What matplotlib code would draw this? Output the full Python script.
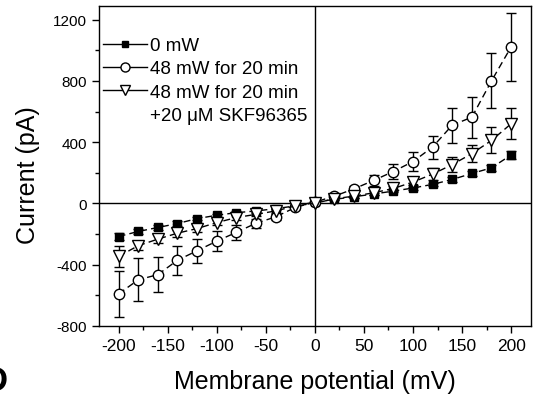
import matplotlib
matplotlib.use("Agg")
import matplotlib.pyplot as plt
from matplotlib.lines import Line2D
import numpy as np

plt.rcParams['font.family'] = ['Liberation Sans', 'DejaVu Sans']
plt.rcParams['axes.unicode_minus'] = False

voltage = [-200, -180, -160, -140, -120, -100, -80, -60, -40, -20, 0,
           20, 40, 60, 80, 100, 120, 140, 160, 180, 200]

ctrl = [-217, -184, -158, -132, -100, -78, -61, -50, -35, -17, 8,
        26, 43, 61, 80, 100, 124, 156, 195, 232, 316]
ctrl_err = [20, 18, 16, 14, 12, 10, 9, 8, 7, 6, 5,
            6, 7, 8, 9, 10, 12, 14, 16, 20, 25]

laser = [-592, -500, -466, -372, -310, -247, -190, -130, -89, -27, 8,
         47, 95, 150, 208, 273, 368, 511, 563, 800, 1022]
laser_err = [150, 140, 115, 95, 80, 65, 48, 30, 20, 12, 8,
             15, 20, 35, 48, 62, 75, 115, 135, 180, 225]

skf = [-347, -277, -234, -195, -165, -126, -93, -72, -50, -17, 0,
       30, 47, 69, 97, 139, 191, 253, 325, 411, 520]
skf_err = [70, 30, 25, 22, 20, 18, 15, 12, 10, 8, 6,
           8, 10, 12, 15, 18, 40, 48, 55, 85, 100]

labels = ['0 mW', '48 mW for 20 min', '48 mW for 20 min', '+20 \u03bcM SKF96365']

fig = plt.figure(figsize=(5.35, 4.02), dpi=100)
ax = fig.add_axes([0.185, 0.1873, 0.807, 0.7953])

common = dict(color='black', ls='--', lw=1.0, elinewidth=1.0, capsize=3.5,
              capthick=1.0, dashes=(5, 3))
ax.errorbar(voltage, ctrl, yerr=ctrl_err, marker='s', ms=5.5, mfc='black',
            mec='black', **common)
ax.errorbar(voltage, laser, yerr=laser_err, marker='o', ms=7.5, mfc='white',
            mec='black', **common)
ax.errorbar(voltage, skf, yerr=skf_err, marker='v', ms=8.5, mfc='white',
            mec='black', **common)

ax.axhline(0, color='black', lw=1.0, zorder=0.5)
ax.axvline(0, color='black', lw=1.0, zorder=0.5)

ax.set_xlim(-220, 220)
ax.set_ylim(-800, 1290)
ax.set_xticks(np.arange(-200, 201, 50))
ax.set_xticks(np.arange(-200, 201, 25), minor=True)
ax.set_yticks(np.arange(-800, 1201, 400))
ax.set_yticks(np.arange(-800, 1201, 200), minor=True)
ax.tick_params(which='both', direction='out', top=False, right=False)
ax.tick_params(axis='x', labelsize=12.5)
ax.tick_params(axis='y', labelsize=11)
ax.tick_params(which='major', length=5, width=1)
ax.tick_params(which='minor', length=3, width=1)
for s in ax.spines.values():
    s.set_linewidth(1.0)

ax.set_xlabel('Membrane potential (mV)', fontsize=18, labelpad=12)
ax.set_ylabel('Current (pA)', fontsize=18)
ax.yaxis.set_label_coords(-0.137, 0.475)

leg_handles = [
    Line2D([], [], color='black', lw=1, marker='s', ms=5, mfc='black'),
    Line2D([], [], color='black', lw=1, marker='o', ms=6.5, mfc='white'),
    Line2D([], [], color='black', lw=1, marker='v', ms=7.5, mfc='white'),
    Line2D([], [], color='none', lw=0),
]
ax.legend(leg_handles, labels, loc='upper left', frameon=False, fontsize=13.5,
          handlelength=2.35, handletextpad=0.15, labelspacing=0.32,
          borderpad=0, borderaxespad=0, bbox_to_anchor=(0.009, 0.9025))

fig.text(-0.032, 0.05, 'D', fontsize=25, fontweight='bold', ha='left', va='center')

fig.savefig('out.png', dpi=100)
